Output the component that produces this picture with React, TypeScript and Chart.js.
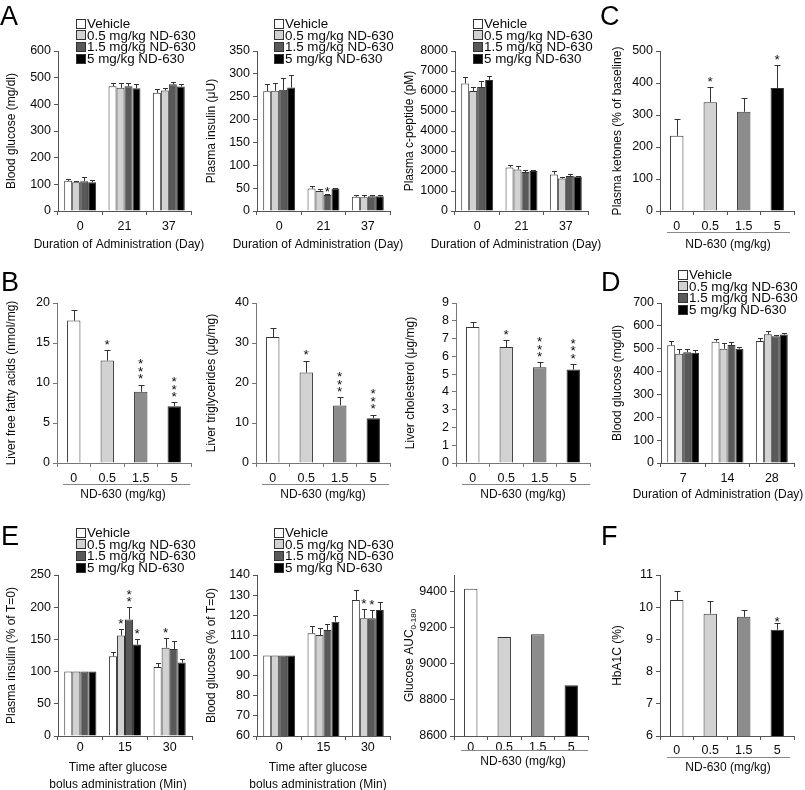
import React, { useEffect, useRef } from 'react';
import { Chart, registerables } from 'chart.js';

Chart.register(...registerables);

const FONT = "'Liberation Sans', Arial, Helvetica, sans-serif";
Chart.defaults.font.family = FONT;

// ---------- categories / labels ----------
const seriesNames = ['Vehicle', '0.5 mg/kg ND-630', '1.5 mg/kg ND-630', '5 mg/kg ND-630'];
const daysA = ['0', '21', '37'];
const daysD = ['7', '14', '28'];
const timesE = ['0', '15', '30'];
const doseLabels = ['0', '0.5', '1.5', '5'];

// ---------- tick labels ----------
const ticksGlucoseA = [0, 100, 200, 300, 400, 500, 600];
const ticksInsulinA = [0, 50, 100, 150, 200, 250, 300, 350];
const ticksCpepA = [0, 1000, 2000, 3000, 4000, 5000, 6000, 7000, 8000];
const ticksKetC = [0, 100, 200, 300, 400, 500];
const ticksFfaB = [0, 5, 10, 15, 20];
const ticksTgB = [0, 10, 20, 30, 40];
const ticksCholB = [0, 1, 2, 3, 4, 5, 6, 7, 8, 9];
const ticksGlucoseD = [0, 100, 200, 300, 400, 500, 600, 700];
const ticksInsulinE = [0, 50, 100, 150, 200, 250];
const ticksGlucoseE = [60, 70, 80, 90, 100, 110, 120, 130, 140];
const ticksAucE = [8600, 8800, 9000, 9200, 9400];
const ticksHbF = [6, 7, 8, 9, 10, 11];

// ---------- values (rows = series) ----------
const glucoseA = [[113, 468, 443], [108, 462, 452], [112, 468, 475], [108, 460, 467]];
const glucoseAErr = [[8, 12, 15], [3, 18, 11], [14, 12, 8], [9, 18, 11]];
const insulinA = [[262, 49, 31], [263, 44, 30], [265, 35, 32], [270, 49, 32]];
const insulinAErr = [[15, 6, 3], [17, 4, 4], [25, 3, 3], [27, 2, 3]];
const cpeptideA = [[6380, 2180, 1830], [6000, 2080, 1620], [6200, 1950, 1750], [6550, 2000, 1720]];
const cpeptideAErr = [[330, 120, 170], [220, 170, 80], [300, 100, 80], [180, 50, 50]];
const ketonesC = [235, 340, 310, 384];
const ketonesCErr = [52, 46, 44, 72];
const ffaB = [17.8, 12.8, 8.9, 7.1];
const ffaBErr = [1.3, 1.3, 0.9, 0.5];
const tgB = [31.5, 22.6, 14.4, 11.2];
const tgBErr = [2.3, 3.0, 2.0, 0.9];
const cholB = [7.65, 6.52, 5.38, 5.26];
const cholBErr = [0.3, 0.4, 0.28, 0.3];
const glucoseD = [[515, 531, 534], [478, 500, 563], [485, 516, 554], [482, 500, 562]];
const glucoseDErr = [[17, 11, 15], [22, 25, 15], [15, 14, 8], [12, 9, 8]];
const insulinE = [[100, 124, 107], [100, 156, 137], [100, 181, 135], [100, 142, 114]];
const insulinEErr = [[0, 6, 7], [0, 10, 15], [0, 19, 12], [0, 8, 6]];
const glucoseE = [[100, 111, 127.6], [100, 110.2, 118.5], [100, 112.7, 118.5], [100, 116.8, 122.6]];
const glucoseEErr = [[0, 3.5, 5], [0, 3.3, 4.5], [0, 3, 4], [0, 3, 4]];
const aucE = [9418, 9150, 9165, 8882];
const hba1cF = [10.22, 9.8, 9.7, 9.3];
const hba1cFErr = [0.27, 0.4, 0.22, 0.2];

// significance marks: dataset, category index, number of asterisks
const starsA2 = [{ ds: 2, i: 1, n: 1, dy: 5 }];
const starsC = [{ ds: 0, i: 1, n: 1 }, { ds: 0, i: 3, n: 1 }];
const starsB1 = [{ ds: 0, i: 1, n: 1 }, { ds: 0, i: 2, n: 3 }, { ds: 0, i: 3, n: 3 }];
const starsB2 = [{ ds: 0, i: 1, n: 1 }, { ds: 0, i: 2, n: 3 }, { ds: 0, i: 3, n: 3 }];
const starsB3 = [{ ds: 0, i: 1, n: 1 }, { ds: 0, i: 2, n: 3 }, { ds: 0, i: 3, n: 3 }];
const starsE1 = [{ ds: 1, i: 1, n: 1 }, { ds: 2, i: 1, n: 2 }, { ds: 3, i: 1, n: 1 }, { ds: 1, i: 2, n: 1 }];
const starsE2 = [{ ds: 1, i: 2, n: 1 }, { ds: 2, i: 2, n: 1 }];
const starsF = [{ ds: 0, i: 3, n: 1, dy: 5 }];

// ---------- styles ----------
const groupColors = ['#ffffff', '#d2d2d2', '#595959', '#000000'];
const doseColors = ['#ffffff', '#d2d2d2', '#8c8c8c', '#000000'];
const TEXT = '#0a0a0a';
const TICK_SIZE = 12.5;
const TITLE_SIZE = 12;
const PADL = 60, PADT = 40, PADR = 24, PADB = 64;

type Star = { ds: number; i: number; n: number; dy?: number };
type Panel = {
  plot: [number, number, number, number];
  labels: string[];
  values: number[][];
  errors?: number[][];
  single?: boolean;
  catPct: number;
  yMin: number;
  yMax: number;
  yTicks: number[];
  yTitle: string;
  ySub?: string;
  yTitleX: number;
  xTitle: string[];
  xTitleY: number[];
  xTitleX: number;
  tickPad: number;
  axisColor: string;
  bracket?: [number, number, number];
  stars?: Star[];
};

const panels: Panel[] = [
  { plot: [58, 51, 191, 211], labels: daysA, values: glucoseA, errors: glucoseAErr, catPct: 0.72,
    yMin: 0, yMax: 600, yTicks: ticksGlucoseA, yTitle: 'Blood glucose (mg/dl)', yTitleX: 12,
    xTitle: ['Duration of Administration (Day)'], xTitleY: [245], xTitleX: 119, tickPad: 4, axisColor: '#555' },
  { plot: [257, 51, 390, 211], labels: daysA, values: insulinA, errors: insulinAErr, catPct: 0.72,
    yMin: 0, yMax: 350, yTicks: ticksInsulinA, yTitle: 'Plasma insulin (μU)', yTitleX: 212,
    xTitle: ['Duration of Administration (Day)'], xTitleY: [245], xTitleX: 318, tickPad: 4, axisColor: '#555', stars: starsA2 },
  { plot: [455, 51, 588, 211], labels: daysA, values: cpeptideA, errors: cpeptideAErr, catPct: 0.72,
    yMin: 0, yMax: 8000, yTicks: ticksCpepA, yTitle: 'Plasma c-peptide (pM)', yTitleX: 410,
    xTitle: ['Duration of Administration (Day)'], xTitleY: [245], xTitleX: 516, tickPad: 4, axisColor: '#555' },
  { plot: [660, 51, 794, 211], labels: doseLabels, values: [ketonesC], errors: [ketonesCErr], single: true, catPct: 0.4,
    yMin: 0, yMax: 500, yTicks: ticksKetC, yTitle: 'Plasma ketones (% of baseline)', yTitleX: 618,
    xTitle: ['ND-630 (mg/kg)'], xTitleY: [245], xTitleX: 728, tickPad: 4, axisColor: '#555',
    bracket: [232, 667, 790], stars: starsC },
  { plot: [57, 303, 191, 463], labels: doseLabels, values: [ffaB], errors: [ffaBErr], single: true, catPct: 0.4,
    yMin: 0, yMax: 20, yTicks: ticksFfaB, yTitle: 'Liver free fatty acids (nmol/mg)', yTitleX: 12,
    xTitle: ['ND-630 (mg/kg)'], xTitleY: [495], xTitleX: 123, tickPad: 4, axisColor: '#777',
    bracket: [484, 63, 190], stars: starsB1 },
  { plot: [256, 303, 390, 463], labels: doseLabels, values: [tgB], errors: [tgBErr], single: true, catPct: 0.4,
    yMin: 0, yMax: 40, yTicks: ticksTgB, yTitle: 'Liver triglycerides (μg/mg)', yTitleX: 212,
    xTitle: ['ND-630 (mg/kg)'], xTitleY: [495], xTitleX: 323, tickPad: 4, axisColor: '#777',
    bracket: [484, 262, 389], stars: starsB2 },
  { plot: [456, 303, 590, 463], labels: doseLabels, values: [cholB], errors: [cholBErr], single: true, catPct: 0.4,
    yMin: 0, yMax: 9, yTicks: ticksCholB, yTitle: 'Liver cholesterol (μg/mg)', yTitleX: 411,
    xTitle: ['ND-630 (mg/kg)'], xTitleY: [495], xTitleX: 523, tickPad: 4, axisColor: '#777',
    bracket: [484, 462, 590], stars: starsB3 },
  { plot: [661, 303, 794, 463], labels: daysD, values: glucoseD, errors: glucoseDErr, catPct: 0.72,
    yMin: 0, yMax: 700, yTicks: ticksGlucoseD, yTitle: 'Blood glucose (mg/dl)', yTitleX: 618,
    xTitle: ['Duration of Administration (Day)'], xTitleY: [495], xTitleX: 718, tickPad: 4, axisColor: '#555' },
  { plot: [58, 575, 192, 736], labels: timesE, values: insulinE, errors: insulinEErr, catPct: 0.72,
    yMin: 0, yMax: 250, yTicks: ticksInsulinE, yTitle: 'Plasma insulin (% of T=0)', yTitleX: 12,
    xTitle: ['Time after glucose', 'bolus administration (Min)'], xTitleY: [768, 785], xTitleX: 118, tickPad: 0,
    axisColor: '#555', stars: starsE1 },
  { plot: [257, 575, 390, 736], labels: timesE, values: glucoseE, errors: glucoseEErr, catPct: 0.72,
    yMin: 60, yMax: 140, yTicks: ticksGlucoseE, yTitle: 'Blood glucose (% of T=0)', yTitleX: 212,
    xTitle: ['Time after glucose', 'bolus administration (Min)'], xTitleY: [768, 785], xTitleX: 318, tickPad: 0,
    axisColor: '#555', stars: starsE2 },
  { plot: [454, 575, 588, 736], labels: doseLabels, values: [aucE], single: true, catPct: 0.4,
    yMin: 8600, yMax: 9494, yTicks: ticksAucE, yTitle: 'Glucose AUC', ySub: '0-180', yTitleX: 410,
    xTitle: ['ND-630 (mg/kg)'], xTitleY: [762], xTitleX: 523, tickPad: 0, axisColor: '#555',
    bracket: [750, 461, 588] },
  { plot: [660, 575, 794, 736], labels: doseLabels, values: [hba1cF], errors: [hba1cFErr], single: true, catPct: 0.4,
    yMin: 6, yMax: 11, yTicks: ticksHbF, yTitle: 'HbA1C (%)', yTitleX: 618,
    xTitle: ['ND-630 (mg/kg)'], xTitleY: [768], xTitleX: 728, tickPad: 3, axisColor: '#555',
    bracket: [757, 667, 790], stars: starsF },
];

const annot = {
  id: 'annot',
  afterDatasetsDraw(chart: any, _args: any, opts: any) {
    const p: Panel = opts.panel;
    const ox: number = opts.ox, oy: number = opts.oy;
    const ctx: CanvasRenderingContext2D = chart.ctx;
    const ys = chart.scales.y;
    ctx.save();
    // error bars (upper only)
    if (p.errors) {
      ctx.strokeStyle = '#333';
      ctx.lineWidth = 1;
      p.errors.forEach((errs, di) => {
        const meta = chart.getDatasetMeta(di);
        meta.data.forEach((bar: any, i: number) => {
          const e = errs[i];
          if (!e) return;
          const v = p.values[di][i];
          const x = Math.round(bar.x) + 0.5;
          const y0 = ys.getPixelForValue(v);
          const y1 = Math.round(ys.getPixelForValue(v + e)) + 0.5;
          const cap = p.single ? 3 : 2.5;
          ctx.beginPath();
          ctx.moveTo(x, y0);
          ctx.lineTo(x, y1);
          ctx.moveTo(x - cap, y1);
          ctx.lineTo(x + cap, y1);
          ctx.stroke();
        });
      });
    }
    // asterisks
    if (p.stars) {
      ctx.fillStyle = TEXT;
      ctx.font = `13.5px ${FONT}`;
      ctx.textAlign = 'center';
      ctx.textBaseline = 'alphabetic';
      p.stars.forEach((s) => {
        const bar = chart.getDatasetMeta(s.ds).data[s.i];
        const v = p.values[s.ds][s.i] + (p.errors ? p.errors[s.ds][s.i] : 0);
        const top = ys.getPixelForValue(v);
        for (let k = 0; k < s.n; k++) {
          const cy = top - (s.dy ?? 9) - k * 7.5;
          ctx.fillText('*', bar.x, cy + 7.8);
        }
      });
    }
    ctx.fillStyle = TEXT;
    // y title
    const [, T, , B] = p.plot;
    ctx.save();
    ctx.translate(p.yTitleX - ox, (T + B) / 2 - oy);
    ctx.rotate(-Math.PI / 2);
    ctx.textBaseline = 'middle';
    ctx.font = `${TITLE_SIZE}px ${FONT}`;
    if (p.ySub) {
      const w1 = ctx.measureText(p.yTitle).width;
      ctx.font = `8px ${FONT}`;
      const w2 = ctx.measureText(p.ySub).width;
      const start = -(w1 + w2) / 2;
      ctx.textAlign = 'left';
      ctx.font = `${TITLE_SIZE}px ${FONT}`;
      ctx.fillText(p.yTitle, start, 0);
      ctx.font = `8px ${FONT}`;
      ctx.fillText(p.ySub, start + w1, 4);
    } else {
      ctx.textAlign = 'center';
      ctx.fillText(p.yTitle, 0, 0);
    }
    ctx.restore();
    // x title
    ctx.font = `${TITLE_SIZE}px ${FONT}`;
    ctx.textAlign = 'center';
    ctx.textBaseline = 'middle';
    p.xTitle.forEach((t, k) => ctx.fillText(t, p.xTitleX - ox, p.xTitleY[k] - oy));
    // bracket line under tick labels
    if (p.bracket) {
      const [by, bx1, bx2] = p.bracket;
      ctx.strokeStyle = '#888';
      ctx.lineWidth = 1;
      ctx.beginPath();
      ctx.moveTo(bx1 - ox, Math.round(by - oy) + 0.5);
      ctx.lineTo(bx2 - ox, Math.round(by - oy) + 0.5);
      ctx.stroke();
    }
    ctx.restore();
  },
};

function PanelChart({ p }: { p: Panel }) {
  const ref = useRef<HTMLCanvasElement>(null);
  const [L, T, R, B] = p.plot;
  const left = L - PADL;
  const top = T - PADT;
  const width = R - L + PADL + PADR;
  const height = B - T + PADT + PADB;
  useEffect(() => {
    const datasets = p.values.map((vals, di) => ({
      data: vals,
      backgroundColor: p.single ? doseColors : groupColors[di],
      borderColor: '#333',
      borderWidth: 1,
      categoryPercentage: p.catPct,
      barPercentage: 1,
    }));
    const chart = new Chart(ref.current as HTMLCanvasElement, {
      type: 'bar',
      data: { labels: p.labels, datasets },
      options: {
        animation: false,
        responsive: false,
        maintainAspectRatio: false,
        devicePixelRatio: 1,
        layout: { padding: { left: 0, top: PADT, right: PADR, bottom: 0 } },
        plugins: {
          legend: { display: false },
          tooltip: { enabled: false },
          annot: { panel: p, ox: left, oy: top },
        } as any,
        scales: {
          x: {
            type: 'category',
            offset: true,
            grid: { offset: true, drawOnChartArea: false, drawTicks: true, tickLength: 4, color: p.axisColor },
            border: { color: p.axisColor, width: 1 },
            ticks: { font: { size: TICK_SIZE, family: FONT }, color: TEXT, padding: p.tickPad, autoSkip: false, maxRotation: 0 },
            afterFit: (s: any) => { s.height = PADB; },
          },
          y: {
            type: 'linear',
            min: p.yMin,
            max: p.yMax,
            grid: { drawOnChartArea: false, drawTicks: true, tickLength: 4, color: p.axisColor },
            border: { color: p.axisColor, width: 1 },
            ticks: {
              font: { size: TICK_SIZE, family: FONT }, color: TEXT, padding: 3, autoSkip: false,
              callback: (v: any) => String(v),
            },
            afterBuildTicks: (s: any) => { s.ticks = p.yTicks.map((v) => ({ value: v })); },
            afterFit: (s: any) => { s.width = PADL; },
          },
        },
      } as any,
      plugins: [annot],
    });
    return () => chart.destroy();
  }, []);
  return (
    <canvas
      ref={ref}
      width={width}
      height={height}
      style={{ position: 'absolute', left, top, width, height }}
    />
  );
}

function Legend({ x, y }: { x: number; y: number }) {
  return (
    <div style={{ position: 'absolute', left: x, top: y, fontSize: 13.4, color: TEXT, whiteSpace: 'nowrap' }}>
      {seriesNames.map((n, i) => (
        <div key={n} style={{ display: 'flex', alignItems: 'center', height: 11.6, lineHeight: '11.6px' }}>
          <span
            style={{
              display: 'inline-block', width: 10, height: 10, boxSizing: 'border-box',
              border: '1px solid #333', background: groupColors[i], marginRight: 1, flexShrink: 0,
            }}
          />
          <span>{n}</span>
        </div>
      ))}
    </div>
  );
}

const letters = [
  { t: 'A', x: 0, y: 3 },
  { t: 'B', x: 1, y: 269 },
  { t: 'C', x: 600, y: 3 },
  { t: 'D', x: 601, y: 269 },
  { t: 'E', x: 1, y: 523 },
  { t: 'F', x: 601, y: 523 },
];

const legendSpots = [
  { x: 76, y: 18 },
  { x: 274, y: 18 },
  { x: 473, y: 18 },
  { x: 678, y: 269 },
  { x: 76, y: 527 },
  { x: 274, y: 527 },
];

export default function App() {
  return (
    <div style={{ position: 'absolute', left: 0, top: 0, width: 805, height: 790, background: '#fff', fontFamily: FONT, overflow: 'hidden' }}>
      {panels.map((p, k) => <PanelChart key={k} p={p} />)}
      {legendSpots.map((s, k) => <Legend key={k} x={s.x} y={s.y} />)}
      {letters.map((l) => (
        <div key={l.t} style={{ position: 'absolute', left: l.x, top: l.y, fontSize: 27, lineHeight: '27px', color: '#000' }}>{l.t}</div>
      ))}
    </div>
  );
}
